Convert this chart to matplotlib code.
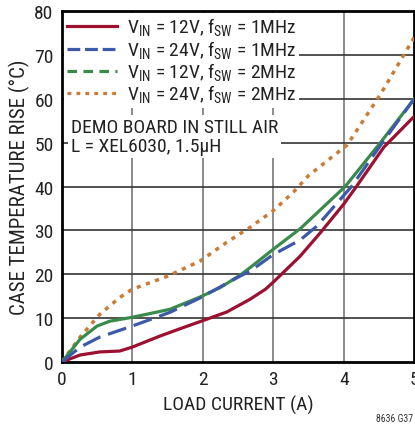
import matplotlib
matplotlib.use('Agg')
import matplotlib.pyplot as plt
from matplotlib import font_manager
from matplotlib.lines import Line2D

# narrow font if one is there, Liberation Sans otherwise
names = set(f.name for f in font_manager.fontManager.ttflist)
narrow = [n for n in ['Liberation Sans Narrow', 'Roboto Condensed', 'Open Sans Condensed'] if n in names]
plt.rcParams['font.family'] = narrow + ['Liberation Sans', 'DejaVu Sans']
plt.rcParams['mathtext.fontset'] = 'custom'
plt.rcParams['mathtext.rm'] = (narrow + ['Liberation Sans'])[0]
fs = 14 if narrow else 12

# load current (A) and case temperature rise (C)
i_12v_1m = [0, 0.26, 0.54, 0.82, 1.0, 1.39, 1.68, 1.96, 2.34, 2.67, 2.89, 3.0, 3.38, 3.67, 4.0, 4.18, 4.57, 5.0]
t_12v_1m = [0, 1.6, 2.3, 2.5, 3.4, 5.9, 7.6, 9.2, 11.4, 14.3, 16.6, 18.2, 24.1, 29.5, 36, 40, 49, 56]

i_24v_1m = [0, 0.26, 0.54, 1.0, 1.53, 1.96, 2.53, 2.67, 3.0, 3.38, 3.62, 4.11, 4.57, 5.0]
t_24v_1m = [0, 3.4, 5.7, 8.2, 11.3, 14.6, 19.6, 20.7, 24.5, 27.8, 31, 40, 50.5, 60]

i_12v_2m = [0, 0.26, 0.5, 0.68, 1.0, 1.53, 1.96, 2.25, 2.53, 2.67, 3.0, 3.39, 4.02, 4.52, 5.0]
t_12v_2m = [0, 5.2, 8.2, 9.3, 10.2, 12, 14.8, 17, 19.8, 21.5, 25.7, 30.5, 40, 50, 60]

i_24v_2m = [0, 0.26, 0.54, 0.82, 1.0, 1.49, 1.96, 2.34, 2.67, 3.0, 3.29, 3.5, 4.05, 4.52, 5.0]
t_24v_2m = [0, 5.7, 10.9, 14.7, 16.6, 19.5, 23, 27.3, 30.7, 34.5, 38.8, 42.5, 49.5, 61, 74]

labels = [r'V$_{\mathregular{IN}}$ = 12V, f$_{\mathregular{SW}}$ = 1MHz',
          r'V$_{\mathregular{IN}}$ = 24V, f$_{\mathregular{SW}}$ = 1MHz',
          r'V$_{\mathregular{IN}}$ = 12V, f$_{\mathregular{SW}}$ = 2MHz',
          r'V$_{\mathregular{IN}}$ = 24V, f$_{\mathregular{SW}}$ = 2MHz']

red = '#9c1030'
blue = '#3c5aa8'
green = '#3a8a4c'
orange = '#c97c38'
txt = '#222222'

fig = plt.figure(figsize=(4.15, 4.35), dpi=100)
ax = fig.add_axes([0.149, 0.1655, 0.849, 0.8065])

ax.plot(i_12v_1m, t_12v_1m, color=red, lw=2.3, zorder=5, solid_joinstyle='round')
ax.plot(i_12v_2m, t_12v_2m, color=green, lw=2.3, zorder=4, solid_joinstyle='round')
ax.plot(i_24v_1m, t_24v_1m, color=blue, lw=2.3, dashes=(6, 2.5), zorder=6)
ax.plot(i_24v_2m, t_24v_2m, color=orange, lw=2.5, dashes=(1.2, 1.6), zorder=3)

ax.set_xlim(0, 5)
ax.set_ylim(0, 80)
ax.set_xticks(range(0, 6))
ax.set_yticks(range(0, 90, 10))
ax.tick_params(length=0, labelsize=fs, pad=6, colors=txt)

for x in range(1, 5):
    ax.axvline(x, color='#8a8a8a', lw=1.4, zorder=1)
for y in range(10, 80, 10):
    ax.axhline(y, color='#333333', lw=1.2, zorder=1)
for s in ax.spines.values():
    s.set_linewidth(2)
    s.set_color('black')

ax.set_xlabel('LOAD CURRENT (A)', fontsize=fs, color=txt, labelpad=5)
ax.set_ylabel('CASE TEMPERATURE RISE (°C)', fontsize=fs + 1, color=txt, labelpad=3)

handles = [Line2D([], [], color=red, lw=2.3),
           Line2D([], [], color=blue, lw=2.3, dashes=(4, 1.5)),
           Line2D([], [], color=green, lw=2.3, dashes=(3, 2)),
           Line2D([], [], color=orange, lw=2.3, dashes=(1.2, 1.6))]
leg = ax.legend(handles, labels, loc='upper left', bbox_to_anchor=(0.0, 1.0),
                fontsize=fs, frameon=True, fancybox=False, framealpha=1,
                edgecolor='none', handlelength=2.6, handletextpad=0.5,
                labelspacing=0.0, borderpad=0.15, borderaxespad=0.1)
leg.set_zorder(10)
for t in leg.get_texts():
    t.set_color(txt)

ax.text(0.025, 0.695, 'DEMO BOARD IN STILL AIR\nL = XEL6030, 1.5µH',
        transform=ax.transAxes, fontsize=fs, color=txt,
        va='top', ha='left', linespacing=1.05, zorder=10,
        bbox=dict(facecolor='white', edgecolor='none', pad=2))

fig.text(0.995, 0.025, '8636 G37', fontsize=7, ha='right', va='bottom', color='#333333')

fig.savefig('out.png', dpi=100)
